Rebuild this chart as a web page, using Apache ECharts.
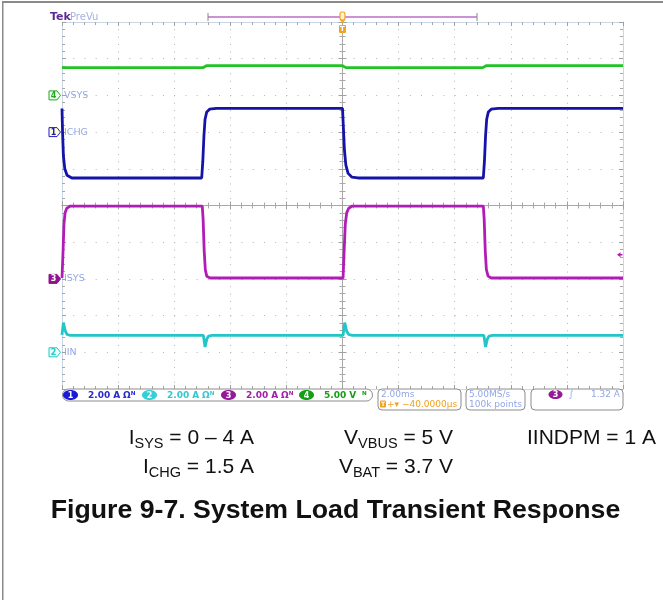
<!DOCTYPE html>
<html><head><meta charset="utf-8">
<script src="https://cdn.jsdelivr.net/npm/echarts@6/dist/echarts.min.js"></script>
<style>html,body{margin:0;padding:0;background:#fff}#c{width:663px;height:600px}</style>
</head><body><div id="c"></div>
<script>
// ---- scope settings (2 ms/div, 10 x 10 graticule, time 0 at screen centre) ----
const CH_NAMES   = ['ICHG', 'IIN', 'ISYS', 'VSYS'];      // channels 1..4
const CH_SCALE   = [2, 2, 2, 5];                          // units per division
const CH_GROUND  = [2, -4, -2, 3];                        // ground marker, divisions from centre
const CH_COLORS  = ['#1414a8', '#22c6c8', '#b21cb6', '#22c424'];
const SCALE_LABELS = ['2.00 A', '2.00 A', '2.00 A', '5.00 V'];
const TRIG_LEVEL = 1.32;   // A on channel 3

// ---- channel 1 : ICHG (A) ----
const ICHG_T = [-10, -9.98, -9.95, -9.9, -9.82, -9.65, -5.02, -4.98, -4.94, -4.9, -4.84, -4.74, -4.5, 0.0, 0.03, 0.07, 0.12, 0.2, 0.33, 0.55, 5.02, 5.06, 5.1, 5.14, 5.2, 5.3, 5.55, 10];
const ICHG_V = [1.29, 0.0, -1.3, -2.0, -2.35, -2.5, -2.5, -1.6, -0.2, 0.7, 1.1, 1.25, 1.29, 1.29, 0.3, -1.0, -1.8, -2.25, -2.45, -2.5, -2.5, -1.6, -0.2, 0.7, 1.1, 1.25, 1.29, 1.29];
// ---- channel 2 : IIN (A) ----
const IIN_T = [-10, -9.95, -9.88, -9.82, -9.7, -4.96, -4.9, -4.84, -4.78, -4.65, 0.02, 0.08, 0.15, 0.22, 0.35, 5.04, 5.1, 5.16, 5.22, 5.35, 10];
const IIN_V = [0.95, 1.62, 1.15, 0.97, 0.92, 0.92, 0.29, 0.7, 0.88, 0.92, 0.92, 1.62, 1.15, 0.97, 0.92, 0.92, 0.29, 0.7, 0.88, 0.92, 0.92];
// ---- channel 3 : ISYS (A) ----
const ISYS_T = [-10, -9.96, -9.93, -9.89, -9.83, -9.7, -5.0, -4.97, -4.93, -4.89, -4.84, -4.72, 0.02, 0.06, 0.1, 0.15, 0.22, 0.35, 5.02, 5.05, 5.09, 5.13, 5.19, 5.3, 10];
const ISYS_V = [0.05, 1.6, 3.0, 3.6, 3.85, 3.97, 3.97, 3.3, 1.5, 0.5, 0.15, 0.05, 0.05, 1.6, 3.0, 3.6, 3.85, 3.97, 3.97, 3.3, 1.5, 0.5, 0.15, 0.05, 0.05];
// ---- channel 4 : VSYS (V) ----
const VSYS_T = [-10, -4.98, -4.85, 0.0, 0.12, 5.0, 5.12, 10];
const VSYS_V = [3.78, 3.78, 4.05, 4.05, 3.78, 3.78, 4.05, 4.05];

const TRACES = [[ICHG_T, ICHG_V], [IIN_T, IIN_V], [ISYS_T, ISYS_V], [VSYS_T, VSYS_V]];

const GRID = {left: 62, top: 22, width: 561, height: 367};
const BORDER = '#c9d6e6', CENTRE = '#a9a9a9', DOT = '#b4b4b4';

function tickAxisX(pos, offset, lineColor, split) {
  return {type: 'value', min: -10, max: 10, interval: 2, position: pos, offset: offset,
    axisLine: {show: true, onZero: false, lineStyle: {color: lineColor, width: 1}},
    axisTick: {show: true, inside: true, length: 4, lineStyle: {color: '#a0a0a0'}},
    minorTick: {show: true, splitNumber: 5, length: 3, lineStyle: {color: '#a8a8a8'}},
    axisLabel: {show: false},
    splitLine: {show: split, lineStyle: {color: DOT, width: 1, type: [1, 6.34]}}};
}
function tickAxisY(pos, offset, lineColor, split) {
  return {type: 'value', min: -5, max: 5, interval: 1, position: pos, offset: offset,
    axisLine: {show: true, onZero: false, lineStyle: {color: lineColor, width: 1}},
    axisTick: {show: true, inside: true, length: 4, lineStyle: {color: '#a0a0a0'}},
    minorTick: {show: true, splitNumber: 5, length: 3, lineStyle: {color: '#a8a8a8'}},
    axisLabel: {show: false},
    splitLine: {show: split, lineStyle: {color: DOT, width: 1, type: [1, 10.22]}}};
}

const yAxes = [
  tickAxisY('left', 0, BORDER, true),
  tickAxisY('right', 0, BORDER, false),
  tickAxisY('left', -GRID.width / 2, CENTRE, false),
  tickAxisY('right', -GRID.width / 2, CENTRE, false)
];
const CH_AXIS = [];
CH_SCALE.forEach((s, k) => {
  CH_AXIS.push(yAxes.length);
  yAxes.push({type: 'value', show: false, min: (-5 - CH_GROUND[k]) * s, max: (5 - CH_GROUND[k]) * s,
    splitLine: {show: false}});
});

const series = TRACES.map((tr, k) => ({
  type: 'line', name: CH_NAMES[k], xAxisIndex: 0, yAxisIndex: CH_AXIS[k],
  data: tr[0].map((t, i) => [t, tr[1][i]]),
  showSymbol: false, symbol: 'none', animation: false, silent: true,
  lineStyle: {color: CH_COLORS[k], width: 2.8},
  z: 5 + k
}));

const chart = echarts.init(document.getElementById('c'), null, {renderer: 'canvas'});
chart.setOption({
  animation: false,
  backgroundColor: '#ffffff',
  grid: Object.assign({containLabel: false, outerBoundsMode: 'none'}, GRID),
  xAxis: [
    tickAxisX('bottom', 0, BORDER, true),
    tickAxisX('top', 0, BORDER, false),
    tickAxisX('bottom', -GRID.height / 2, CENTRE, false),
    tickAxisX('top', -GRID.height / 2, CENTRE, false)
  ],
  yAxis: yAxes,
  series: series
});

// ---------- decorations placed through the axes ----------
const px = t => chart.convertToPixel({xAxisIndex: 0}, t);
const xL = px(-10), xR = px(10), xC = px(0);
const UI = '"DejaVu Sans", sans-serif';
const CAP = '"Liberation Sans", Arial, sans-serif';
const LABEL = '#94a6e6';
const g = [];

// frame
g.push({type: 'rect', shape: {x: 2, y: 1, width: 661, height: 2}, style: {fill: '#8a8a8a'}, z: 50});
g.push({type: 'rect', shape: {x: 2, y: 1, width: 1.5, height: 599}, style: {fill: '#8a8a8a'}, z: 50});

// Tek PreVu
g.push({type: 'text', x: 50, y: 17, style: {text: 'Tek', font: 'bold 11px ' + UI, fill: '#5d2a94', verticalAlign: 'middle'}});
g.push({type: 'text', x: 70, y: 17, style: {text: 'PreVu', font: '10px ' + UI, fill: '#a6b0e4', verticalAlign: 'middle'}});
// record bar
g.push({type: 'line', shape: {x1: 208, y1: 17, x2: 477, y2: 17}, style: {stroke: '#bd6cc6', lineWidth: 1.5}});
g.push({type: 'line', shape: {x1: 208, y1: 13, x2: 208, y2: 21}, style: {stroke: '#888', lineWidth: 1}});
g.push({type: 'line', shape: {x1: 477, y1: 13, x2: 477, y2: 21}, style: {stroke: '#888', lineWidth: 1}});
// trigger position marker
g.push({type: 'rect', shape: {x: xC - 2.5, y: 12, width: 5, height: 8, r: 2}, style: {fill: '#fff3d6', stroke: '#f3a21e', lineWidth: 1.2}, z: 60});
g.push({type: 'polygon', shape: {points: [[xC - 2.5, 20], [xC + 2.5, 20], [xC, 23]]}, style: {fill: '#f3a21e'}, z: 60});
g.push({type: 'rect', shape: {x: xC - 3.5, y: 25, width: 7, height: 8, r: 1}, style: {fill: '#f3a21e'}, z: 60});
g.push({type: 'text', x: xC, y: 29.5, style: {text: 'T', font: 'bold 7px ' + UI, fill: '#fff', align: 'center', verticalAlign: 'middle'}, z: 61});

// channel ground markers
const MARK_STYLE = [
  {fill: '#fffbd0', stroke: '#1c1cc0', text: '#1c1cc0'},
  {fill: '#e8ffff', stroke: '#22c6c8', text: '#22c6c8'},
  {fill: '#8e1490', stroke: '#8e1490', text: '#ffffff'},
  {fill: '#eeffee', stroke: '#22a822', text: '#22a822'}
];
CH_NAMES.forEach((name, k) => {
  const y = chart.convertToPixel({yAxisIndex: CH_AXIS[k]}, 0);
  const m = MARK_STYLE[k];
  g.push({type: 'polygon', shape: {points: [[49, y - 4.5], [57, y - 4.5], [60.5, y], [57, y + 4.5], [49, y + 4.5]]},
    style: {fill: m.fill, stroke: m.stroke, lineWidth: 1}, z: 40});
  g.push({type: 'text', x: 53.5, y: y + 0.5, style: {text: String(k + 1), font: 'bold 8px ' + UI, fill: m.text, align: 'center', verticalAlign: 'middle'}, z: 41});
  g.push({type: 'text', x: 64, y: y, style: {text: name, font: '9.5px ' + UI, fill: LABEL, verticalAlign: 'middle'}, z: 41});
});
// trigger level arrow (channel 3)
const yTrig = chart.convertToPixel({yAxisIndex: CH_AXIS[2]}, TRIG_LEVEL);
g.push({type: 'polygon', shape: {points: [[xR - 6, yTrig], [xR - 2.5, yTrig - 2.5], [xR - 2.5, yTrig + 2.5]]}, style: {fill: '#b21cb6'}, z: 40});
g.push({type: 'line', shape: {x1: xR - 3, y1: yTrig, x2: xR - 0.5, y2: yTrig}, style: {stroke: '#b21cb6', lineWidth: 1.5}, z: 40});

// ---------- status bar ----------
const BAR_Y = 389, BAR_H = 12;
const BOX = {fill: '#ffffff', stroke: '#8c8c8c', lineWidth: 1};
g.push({type: 'rect', shape: {x: 62.5, y: BAR_Y, width: 310, height: BAR_H, r: 6}, style: BOX, z: 30});
const BADGE = ['#1a1ad8', '#33d0d6', '#951a98', '#14a014'];
const VALTXT = ['#2a2ad0', '#34c8d0', '#a021a8', '#14a014'];
const badgeX = [63, 142, 221, 299];
CH_NAMES.forEach((n, k) => {
  const bx = badgeX[k];
  g.push({type: 'ellipse', shape: {cx: bx + 7.5, cy: BAR_Y + 6, rx: 7.5, ry: 5}, style: {fill: BADGE[k]}, z: 31});
  g.push({type: 'text', x: bx + 7.5, y: BAR_Y + 6.5, style: {text: String(k + 1), font: 'bold 8px ' + UI, fill: '#fff', align: 'center', verticalAlign: 'middle'}, z: 32});
  g.push({type: 'text', x: bx + 25, y: BAR_Y + 6.5, style: {text: SCALE_LABELS[k], font: 'bold 9px ' + UI, fill: VALTXT[k], verticalAlign: 'middle'}, z: 32});
  if (k < 3) g.push({type: 'text', x: bx + 60, y: BAR_Y + 6.5, style: {text: 'Ω\u1D3A', font: 'bold 9px ' + UI, fill: VALTXT[k], verticalAlign: 'middle'}, z: 32});
});
g.push({type: 'text', x: 362, y: BAR_Y + 6.5, style: {text: '\u1D3A', font: 'bold 9px ' + UI, fill: '#14a014', verticalAlign: 'middle'}, z: 32});

const BOX_H = 21;
g.push({type: 'rect', shape: {x: 378, y: BAR_Y, width: 83, height: BOX_H, r: 4}, style: BOX, z: 30});
g.push({type: 'text', x: 381, y: BAR_Y + 5.5, style: {text: '2.00ms', font: '9px ' + UI, fill: LABEL, verticalAlign: 'middle'}, z: 32});
g.push({type: 'rect', shape: {x: 380, y: BAR_Y + 11.5, width: 6, height: 7, r: 1}, style: {fill: '#f3a21e'}, z: 32});
g.push({type: 'text', x: 383, y: BAR_Y + 15.5, style: {text: 'T', font: 'bold 6px ' + UI, fill: '#fff', align: 'center', verticalAlign: 'middle'}, z: 33});
g.push({type: 'text', x: 387, y: BAR_Y + 15.5, style: {text: '+▾ −40.0000µs', font: '9px ' + UI, fill: '#f0a020', verticalAlign: 'middle'}, z: 32});

g.push({type: 'rect', shape: {x: 466, y: BAR_Y, width: 59, height: BOX_H, r: 4}, style: BOX, z: 30});
g.push({type: 'text', x: 469, y: BAR_Y + 5.5, style: {text: '5.00MS/s', font: '9px ' + UI, fill: LABEL, verticalAlign: 'middle'}, z: 32});
g.push({type: 'text', x: 469, y: BAR_Y + 15.5, style: {text: '100k points', font: '9px ' + UI, fill: LABEL, verticalAlign: 'middle'}, z: 32});

g.push({type: 'rect', shape: {x: 531, y: BAR_Y, width: 92, height: BOX_H, r: 4}, style: BOX, z: 30});
g.push({type: 'ellipse', shape: {cx: 555.5, cy: BAR_Y + 5.5, rx: 7, ry: 4.5}, style: {fill: '#951a98'}, z: 31});
g.push({type: 'text', x: 555.5, y: BAR_Y + 6, style: {text: '3', font: 'bold 8px ' + UI, fill: '#fff', align: 'center', verticalAlign: 'middle'}, z: 32});
g.push({type: 'text', x: 571, y: BAR_Y + 5.5, style: {text: '∫', font: 'italic 9px ' + UI, fill: LABEL, align: 'center', verticalAlign: 'middle'}, z: 32});
g.push({type: 'text', x: 620, y: BAR_Y + 5.5, style: {text: TRIG_LEVEL.toFixed(2) + ' A', font: '9px ' + UI, fill: LABEL, align: 'right', verticalAlign: 'middle'}, z: 32});

// ---------- caption ----------
function capText(x, y, parts, align) {
  let txt = '';
  parts.forEach(p => { txt += '{' + (p[1] ? 's' : 'm') + '|' + p[0] + '}'; });
  return {type: 'text', x: x, y: y, style: {text: txt, align: align, verticalAlign: 'middle',
    rich: {m: {fontSize: 21, fontFamily: CAP, fill: '#111', lineHeight: 26},
           s: {fontSize: 14.5, fontFamily: CAP, fill: '#111', lineHeight: 13, verticalAlign: 'bottom'}}}};
}
g.push(capText(254, 438, [['I'], ['SYS', 1], [' = 0 – 4 A']], 'right'));
g.push(capText(453, 438, [['V'], ['VBUS', 1], [' = 5 V']], 'right'));
g.push(capText(527, 438, [['IINDPM = 1 A']], 'left'));
g.push(capText(254, 467, [['I'], ['CHG', 1], [' = 1.5 A']], 'right'));
g.push(capText(453, 467, [['V'], ['BAT', 1], [' = 3.7 V']], 'right'));
g.push({type: 'text', x: 335.5, y: 511, style: {text: 'Figure 9-7. System Load Transient Response',
  font: 'bold 26.7px ' + CAP, fill: '#111', align: 'center', verticalAlign: 'middle'}});

chart.setOption({graphic: {elements: g}});
</script>
</body></html>
